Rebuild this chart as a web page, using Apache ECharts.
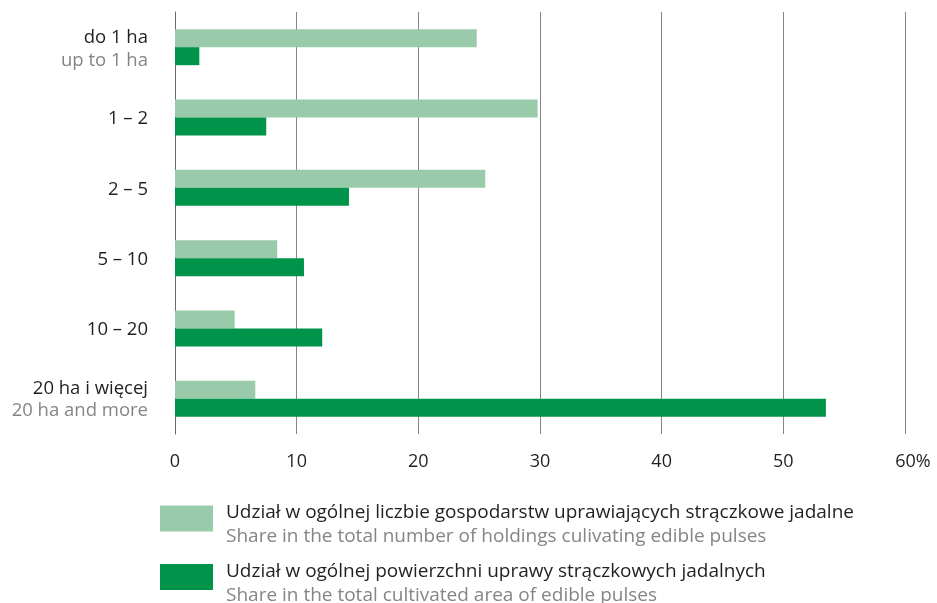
<!DOCTYPE html>
<html>
<head>
<meta charset="utf-8">
<script src="https://cdn.jsdelivr.net/npm/echarts@6/dist/echarts.min.js"></script>
<style>html,body{margin:0;padding:0;background:#fff}#c{width:937px;height:603px}</style>
</head>
<body>
<div id="c"></div>
<script>
const categoriesPl = ['do 1 ha', '1 – 2', '2 – 5', '5 – 10', '10 – 20', '20 ha i więcej'];
const categoriesEn = ['up to 1 ha', '', '', '', '', '20 ha and more'];
const holdingsShare = [24.8, 29.8, 25.5, 8.4, 4.9, 6.6];
const areaShare = [2.0, 7.5, 14.3, 10.6, 12.1, 53.5];
const xTickLabels = ['0', '10', '20', '30', '40', '50', '60%'];
const seriesNamesPl = [
  'Udział w ogólnej liczbie gospodarstw uprawiających strączkowe jadalne',
  'Udział w ogólnej powierzchni uprawy strączkowych jadalnych'
];
const seriesNamesEn = [
  'Share in the total number of holdings culivating edible pulses',
  'Share in the total cultivated area of edible pulses'
];

const FONT = '"Open Sans", sans-serif';
const chart = echarts.init(document.getElementById('c'), null, {renderer: 'canvas'});
chart.setOption({
  animation: false,
  backgroundColor: '#fff',
  grid: {left: 175, right: 32, top: 12, bottom: 169, containLabel: false},
  xAxis: {
    type: 'value', min: 0, max: 60, interval: 10,
    axisLine: {show: false}, axisTick: {show: false},
    splitLine: {lineStyle: {color: '#858585', width: 1}},
    axisLabel: {
      margin: 19,
      color: '#231f20', fontFamily: FONT, fontSize: 18,
      formatter: function (v) {
        const s = xTickLabels[Math.round(v / 10)];
        if (s.indexOf('%') >= 0) return '{p|' + s + '}';
        return s;
      },
      rich: {p: {color: '#231f20', fontFamily: FONT, fontSize: 18, padding: [0, 0, 0, 16]}}
    }
  },
  yAxis: {
    type: 'category', inverse: true, data: categoriesPl,
    axisLine: {show: true, lineStyle: {color: '#6a6a6a', width: 1}},
    axisTick: {show: false},
    axisLabel: {
      margin: 27,
      align: 'right',
      formatter: function (v, i) {
        const en = categoriesEn[i];
        if (i === 0) return '{plTop|' + v + '}\n{en|' + en + '}';
        if (en) return '{pl2|' + v + '}\n{en2|' + en + '}';
        return '{pl|' + v + '}';
      },
      rich: {
        pl: {color: '#231f20', fontFamily: FONT, fontSize: 18.5, lineHeight: 26, align: 'right', padding: [3, 0, 0, 0]},
        plTop: {color: '#231f20', fontFamily: FONT, fontSize: 18.5, lineHeight: 27, align: 'right', padding: [9, 0, 0, 0]},
        en: {color: '#858585', fontFamily: FONT, fontSize: 18.5, lineHeight: 27, align: 'right'},
        pl2: {color: '#231f20', fontFamily: FONT, fontSize: 18.5, lineHeight: 24, align: 'right', padding: [4, 0, 0, 0]},
        en2: {color: '#858585', fontFamily: FONT, fontSize: 18.5, lineHeight: 24, align: 'right'}
      }
    }
  },
  legend: {
    orient: 'vertical', left: 160, top: 494, width: 760, height: 160, padding: 0, itemGap: 6,
    itemWidth: 53, itemHeight: 26, icon: 'rect', selectedMode: false,
    data: seriesNamesPl,
    formatter: function (name) {
      const i = seriesNamesPl.indexOf(name);
      return '{s| }\n{a|' + name + '}\n{b|' + seriesNamesEn[i] + '}';
    },
    textStyle: {
      rich: {
        s: {fontSize: 1, lineHeight: 13},
        a: {color: '#231f20', fontFamily: FONT, fontSize: 19, lineHeight: 24, padding: [0, 0, 0, 8]},
        b: {color: '#858585', fontFamily: FONT, fontSize: 19, lineHeight: 24, padding: [0, 0, 0, 8]}
      }
    }
  },
  series: [
    {
      name: seriesNamesPl[0], type: 'bar', data: holdingsShare,
      barWidth: 18, barGap: '0%',
      itemStyle: {color: '#99caa9'}
    },
    {
      name: seriesNamesPl[1], type: 'bar', data: areaShare,
      barWidth: 18, barGap: '0%',
      itemStyle: {color: '#00944a'}
    }
  ]
});
</script>
</body>
</html>
